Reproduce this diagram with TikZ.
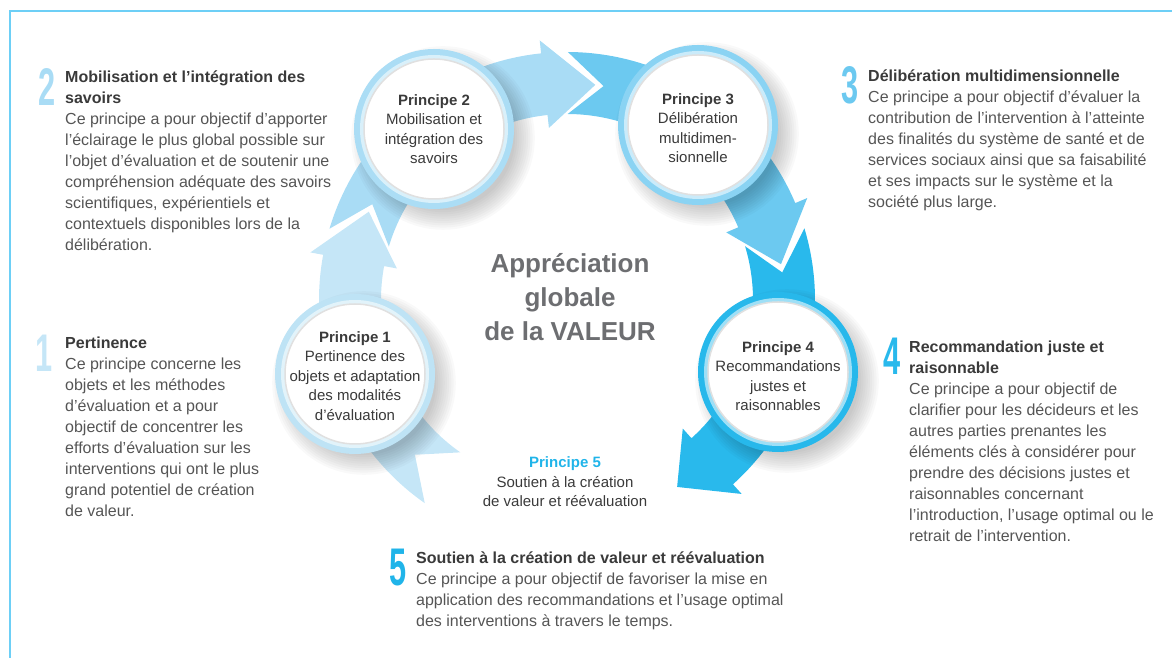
\documentclass[tikz,border=0pt]{standalone}
\usepackage{fontspec}
\setmainfont{Liberation Sans}
\usepackage{tikz}
\usepackage{graphicx}
\usetikzlibrary{calc}
\usepackage{xcolor}
\definecolor{frameBlue}{HTML}{6DCFF6}
\definecolor{segOne}{HTML}{C5E6F7}
\definecolor{segTwo}{HTML}{A9DCF5}
\definecolor{segThree}{HTML}{6CC9F0}
\definecolor{segFour}{HTML}{29B9EC}
\definecolor{segFive}{HTML}{20B4E9}
\definecolor{ringOne}{HTML}{BEE3F5}
\definecolor{ringTwo}{HTML}{ABDDF5}
\definecolor{ringThree}{HTML}{8AD3F3}
\definecolor{ringFour}{HTML}{27B8EB}
\definecolor{headGray}{HTML}{3A3A3A}
\definecolor{bodyGray}{HTML}{555555}
\definecolor{titleGray}{HTML}{6D6E71}

\newcommand{\hd}[1]{{\bfseries\color{headGray}#1}}
\newcommand{\bignum}[1]{\scalebox{0.58}[1]{\fontsize{53}{53}\selectfont\bfseries #1}}

\begin{document}
\begin{tikzpicture}[x=1pt,y=1pt,
    numlabel/.style={
        anchor=base east,
        inner sep=0pt
    },
    textblock/.style={
        anchor=north west,
        inner sep=0pt,
        align=left,
        font=\fontsize{16}{21}\selectfont,
        text=bodyGray
    },
    principe/.style={
        inner sep=0pt,
        align=center,
        font=\fontsize{15}{19.5}\selectfont,
        text=headGray
    },
    titre/.style={
        inner sep=0pt,
        align=center,
        font=\fontsize{26}{34}\selectfont\bfseries,
        text=titleGray
    }
    ]

    \useasboundingbox (0,0) rectangle (1172,658);

    % cadre
    \draw[frameBlue, line width=2pt] (1172,647) -- (10,647) -- (10,0);

    \coordinate (C) at (567,358);
    \def\rmid{217}
    \def\rout{248}
    \def\rin{186}
    \def\rhout{261}
    \def\rhin{173}

    % fleches du cycle
    \begin{scope}[shift={(C)}]
    \foreach \tail/\notch/\base/\tip/\col in {235/225.5/169.5/156/segOne,
        163.3/153.8/96/82.5/segTwo, 89.8/80.3/23/9.5/segThree,
        16.8/7.3/-48/-59.5/segFour}{
        \fill[\col] (\tail:\rout) arc[start angle=\tail, end angle=\base, radius=\rout]
            -- (\base:\rhout) -- (\tip:\rmid) -- (\base:\rhin) -- (\base:\rin)
            arc[start angle=\base, end angle=\tail, radius=\rin]
            -- (\notch:\rmid) -- cycle;
    }
    \end{scope}

    % cercles
    \foreach \pos/\ring in {{355,284}/ringOne, {434,529}/ringTwo,
        {698,533}/ringThree, {778,286}/ringFour}{
        \foreach \k in {0,...,9}
            \fill[black, opacity=0.022] ($(\pos)+(9,-9)$) circle[radius=72+2.2*\k];
        \fill[\ring] (\pos) circle[radius=80];
        \fill[\ring!45!white] (\pos) circle[radius=74];
        \fill[white] (\pos) circle[radius=70];
        \draw[black!12, line width=1.5pt] (\pos) circle[radius=70];
    }

    \node[principe] (pUn) at (355,282) {\textbf{Principe 1}\\Pertinence des\\objets et adaptation\\des modalités\\d’évaluation};
    \node[principe] (pDeux) at (434,529) {\textbf{Principe 2}\\Mobilisation et\\intégration des\\savoirs};
    \node[principe] (pTrois) at (698,530) {\textbf{Principe 3}\\Délibération\\multidimen-\\sionnelle};
    \node[principe] (pQuatre) at (778,282) {\textbf{Principe 4}\\Recommandations\\justes et\\raisonnables};
    \node[principe] (pCinq) at (565,176) {\textcolor{segFive}{\textbf{Principe 5}}\\Soutien à la création\\de valeur et réévaluation};

    \node[titre] (centre) at (570,361) {Appréciation\\globale\\de la VALEUR};

    % numeros
    \node[numlabel, text=segOne] (nUn) at (53,286) {\bignum{1}};
    \node[numlabel, text=segTwo] (nDeux) at (56,552) {\bignum{2}};
    \node[numlabel, text=segThree] (nTrois) at (859,554) {\bignum{3}};
    \node[numlabel, text=segFour] (nQuatre) at (901,283) {\bignum{4}};
    \node[numlabel, text=segFive] (nCinq) at (407,72) {\bignum{5}};

    % textes
    \node[textblock] (tDeux) at (65,587) {\hd{Mobilisation et l’intégration des}\\\hd{savoirs}\\
        Ce principe a pour objectif d’apporter\\l’éclairage le plus global possible sur\\
        l’objet d’évaluation et de soutenir une\\compréhension adéquate des savoirs\\
        scientifiques, expérientiels et\\contextuels disponibles lors de la\\délibération.};
    \node[textblock] (tUn) at (65,321) {\hd{Pertinence}\\Ce principe concerne les\\objets et les méthodes\\
        d’évaluation et a pour\\objectif de concentrer les\\efforts d’évaluation sur les\\
        interventions qui ont le plus\\grand potentiel de création\\de valeur.};
    \node[textblock] (tTrois) at (868,588) {\hd{Délibération multidimensionnelle}\\
        Ce principe a pour objectif d’évaluer la\\contribution de l’intervention à l’atteinte\\
        des finalités du système de santé et de\\services sociaux ainsi que sa faisabilité\\
        et ses impacts sur le système et la\\société plus large.};
    \node[textblock] (tQuatre) at (909,317) {\hd{Recommandation juste et}\\\hd{raisonnable}\\
        Ce principe a pour objectif de\\clarifier pour les décideurs et les\\autres parties prenantes les\\
        éléments clés à considérer pour\\prendre des décisions justes et\\raisonnables concernant\\
        l’introduction, l’usage optimal ou le\\retrait de l’intervention.};
    \node[textblock] (tCinq) at (416,106) {\hd{Soutien à la création de valeur et réévaluation}\\
        Ce principe a pour objectif de favoriser la mise en\\
        application des recommandations et l’usage optimal\\des interventions à travers le temps.};

\end{tikzpicture}
\end{document}
